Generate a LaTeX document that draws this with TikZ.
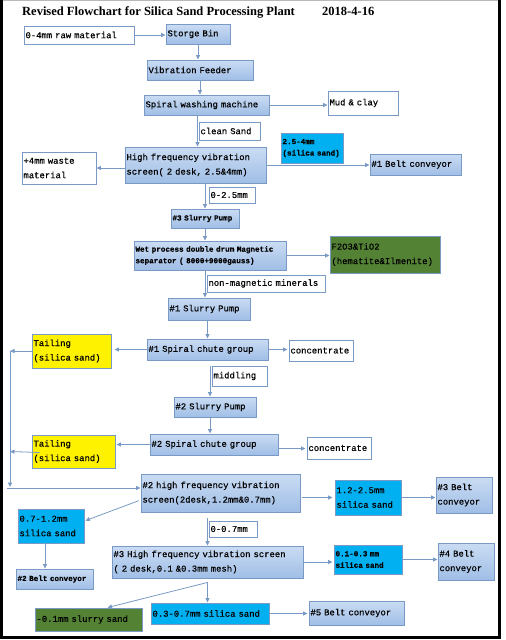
\documentclass[tikz,border=0pt]{standalone}
\usepackage{fontspec}
\setmainfont{Liberation Serif}
\newfontfamily\boxfont[FakeBold=0.4]{Liberation Mono}
\usetikzlibrary{positioning,arrows.meta,calc}
\definecolor{edge}{RGB}{122,154,198}
\definecolor{bluetop}{RGB}{202,220,243}
\definecolor{bluebot}{RGB}{160,190,230}
\definecolor{cyanfill}{RGB}{0,176,240}
\definecolor{olivefill}{RGB}{84,130,53}
\newcommand{\boxnorm}{\boxfont\fontsize{8.9}{14.5}\selectfont}
\newcommand{\boxsmall}{\boxfont\bfseries\fontsize{7.6}{11.5}\selectfont}

\begin{document}
\begin{tikzpicture}[x=1pt, y=-1pt,
  box/.style={draw=edge, line width=0.9pt, inner xsep=1.5pt, inner ysep=1pt, align=left, font=\boxnorm},
  plain/.style={box, fill=white},
  unit/.style={box, top color=bluetop, bottom color=bluebot},
  prod/.style={box, fill=cyanfill},
  tailbox/.style={box, fill=yellow},
  reject/.style={box, fill=olivefill},
  small/.style={font=\boxsmall},
  arr/.style={draw=edge, line width=0.8pt, -{Triangle[length=4.5pt,width=4pt]}},
  frame/.style={draw=black, line width=2.2pt}]
  \useasboundingbox (0,0) rectangle (506,640);
  \draw[gray!55, line width=1pt] (0,0.5) -- (501,0.5);
  \draw[frame] (1.5,0) -- (1.5,637.5) -- (499.5,637.5) -- (499.5,0);

  \node[anchor=base west, inner sep=0pt, font=\bfseries\fontsize{12.5}{14}\selectfont] (title) at (22,15.5) {Revised Flowchart for Silica Sand Processing Plant};
  \node[anchor=base west, inner sep=0pt, font=\bfseries\fontsize{12.5}{14}\selectfont] (date) at (322,15.5) {2018-4-16};

  \node[plain, text width=107pt, minimum height=18pt] (raw) at (79,35) {0-4mm raw material};
  \node[unit, text width=61pt, minimum height=20pt] (bin) at (198,34) {Storge Bin};
  \node[unit, text width=103pt, minimum height=20pt] (feeder) at (200,70) {Vibration Feeder};
  \node[unit, text width=122pt, minimum height=20pt] (wash) at (206.5,105) {Spiral washing machine};
  \node[plain, text width=67pt, minimum height=24pt] (mud) at (363,103) {Mud \& clay};
  \node[plain, text width=58pt, minimum height=18pt] (clean) at (229.5,131) {clean Sand};
  \node[unit, text width=138pt, minimum height=36pt] (hf1) at (195.5,165) {High frequency vibration\\screen( 2 desk, 2.5\&4mm)};
  \node[plain, text width=71pt, minimum height=32pt] (waste) at (59,168) {+4mm waste\\material};
  \node[prod, small, text width=59pt, minimum height=30pt] (big) at (312,148) {2.5-4mm\\(silica sand)};
  \node[unit, text width=88pt, minimum height=21pt] (belt1) at (415.5,164.5) {\#1 Belt conveyor};
  \node[plain, text width=43pt, minimum height=16pt] (cut1) at (232,195) {0-2.5mm};
  \node[unit, small, text width=65pt, minimum height=19pt] (pump3) at (205,218.5) {\#3 Slurry Pump};
  \node[unit, small, text width=149pt, minimum height=29pt] (mag) at (210,255.5) {Wet process double drum Magnetic\\separator ( 8000+9000gauss)};
  \node[reject, text width=107pt, minimum height=37pt] (feti) at (385,254.5) {F2O3\&TiO2\\(hematite\&Ilmenite)};
  \node[plain, text width=115pt, minimum height=17pt] (nonmag) at (266,283.5) {non-magnetic minerals};
  \node[unit, text width=79pt, minimum height=22pt] (pump1) at (209,309) {\#1 Slurry Pump};
  \node[unit, text width=118pt, minimum height=21pt] (chute1) at (207.5,349.5) {\#1 Spiral chute group};
  \node[tailbox, text width=76pt, minimum height=34pt] (tail1) at (71.5,351) {Tailing\\(silica sand)};
  \node[plain, text width=61pt, minimum height=21pt] (conc1) at (321,350.5) {concentrate};
  \node[plain, text width=52pt, minimum height=20pt] (midd) at (239.5,376) {middling};
  \node[unit, text width=79pt, minimum height=20pt] (pump2) at (215,407) {\#2 Slurry Pump};
  \node[unit, text width=125pt, minimum height=21pt] (chute2) at (214,444.5) {\#2 Spiral chute group};
  \node[tailbox, text width=80pt, minimum height=33pt] (tail2) at (73.5,451.5) {Tailing\\(silica sand)};
  \node[plain, text width=61pt, minimum height=22pt] (conc2) at (339,448) {concentrate};
  \node[unit, text width=156pt, minimum height=38pt] (hf2) at (220.5,493) {\#2 high frequency vibration\\screen(2desk,1.2mm\&0.7mm)};
  \node[prod, text width=63pt, minimum height=35pt] (mid) at (368,497.5) {1.2-2.5mm\\silica sand};
  \node[unit, text width=53pt, minimum height=36pt] (belt3) at (464,495) {\#3 Belt\\conveyor};
  \node[prod, text width=63pt, minimum height=34pt] (fine) at (51,526) {0.7-1.2mm\\silica sand};
  \node[plain, text width=45pt, minimum height=16pt] (cut2) at (233,529) {0-0.7mm};
  \node[unit, small, text width=74pt, minimum height=20pt] (belt2) at (54.5,579) {\#2 Belt conveyor};
  \node[unit, text width=188pt, minimum height=32pt] (hf3) at (207.5,562) {\#3 High frequency vibration screen\\( 2 desk,0.1 \&0.3mm mesh)};
  \node[prod, small, text width=65pt, minimum height=29pt] (finest) at (368,559.5) {0.1-0.3 mm\\silica sand};
  \node[unit, text width=53pt, minimum height=37pt] (belt4) at (466,561.5) {\#4 Belt\\conveyor};
  \node[reject, text width=104pt, minimum height=23pt] (slurry) at (88.5,619.5) {-0.1mm slurry sand};
  \node[prod, text width=115pt, minimum height=21pt] (coarse) at (210,613.5) {0.3-0.7mm silica sand};
  \node[unit, text width=92pt, minimum height=24pt] (belt5) at (356.5,613) {\#5 Belt conveyor};

  \coordinate (rtop) at (10,351);
  \coordinate (rbot) at (10,487);
  \coordinate (rin) at (7,488);
  \coordinate (split) at ([yshift=-4pt]hf3.south);

  \draw[arr] (raw.east) -- (raw.east -| bin.west);
  \draw[arr] (bin.south) -- (bin.south |- feeder.north);
  \draw[arr] (feeder.south) -- (feeder.south |- wash.north);
  \draw[arr] (wash.east) -- (wash.east -| mud.west);
  \draw[arr] ([xshift=2pt]hf1.north |- wash.south) -- ([xshift=2pt]hf1.north);
  \draw[arr] (hf1.east) -- (hf1.east -| belt1.west);
  \draw[arr] (waste.east -| hf1.west) -- (waste.east);
  \draw[arr] (pump3.north |- hf1.south) -- (pump3.north);
  \draw[arr] (pump3.south) -- (pump3.south |- mag.north);
  \draw[arr] (mag.east) -- (mag.east -| feti.west);
  \draw[arr] (pump3.south |- mag.south) -- (pump3.south |- pump1.north);
  \draw[arr] (chute1.north |- pump1.south) -- (chute1.north);
  \draw[arr, shorten >=3pt] (chute1.west) -- (chute1.west -| tail1.east);
  \draw[arr] (tail1.west |- rtop) -- (rtop);
  \draw[arr] (rtop) -- (rbot);
  \draw[arr, shorten >=1pt] (chute1.east) -- (chute1.east -| conc1.west);
  \draw[arr] ([xshift=-5pt]pump2.north |- midd.north) -- ([xshift=-5pt]pump2.north);
  \draw[arr] ([xshift=-5pt]pump2.south) -- ([xshift=-5pt]pump2.south |- chute2.north);
  \draw[arr, shorten >=1pt] (chute2.west) -- (chute2.west -| tail2.east);
  \draw[arr] ([xshift=8pt,yshift=-1pt]tail2.west) -- (tail2.west -| rtop);
  \draw[arr, shorten >=1pt] ([yshift=-4pt]chute2.east) -- ([yshift=-4pt]chute2.east -| conc2.west);
  \draw[arr] (rin) -- (rin -| hf2.west);
  \draw[arr, shorten <=2pt, shorten >=2pt] (mid.west -| hf2.east) -- (mid.west);
  \draw[arr] (mid.east) -- (mid.east -| belt3.west);
  \draw[arr, shorten <=2pt, shorten >=1pt] ([yshift=-7pt]hf2.west) -- ([yshift=5pt]fine.east);
  \draw[arr] ([yshift=-6pt]hf2.south -| hf3.north) -- (hf3.north);
  \draw[arr] ([xshift=-6pt]fine.south) -- ([xshift=-6pt]fine.south |- belt2.north);
  \draw[arr, shorten >=1pt] (hf3.east) -- (hf3.east -| finest.west);
  \draw[arr] (finest.east) -- (finest.east -| belt4.west);
  \draw[arr] (split) -- (split |- coarse.north);
  \draw[arr] (split) -- ([xshift=19pt]slurry.north);
  \draw[arr, shorten >=1pt] (coarse.east) -- (coarse.east -| belt5.west);
\end{tikzpicture}
\end{document}
